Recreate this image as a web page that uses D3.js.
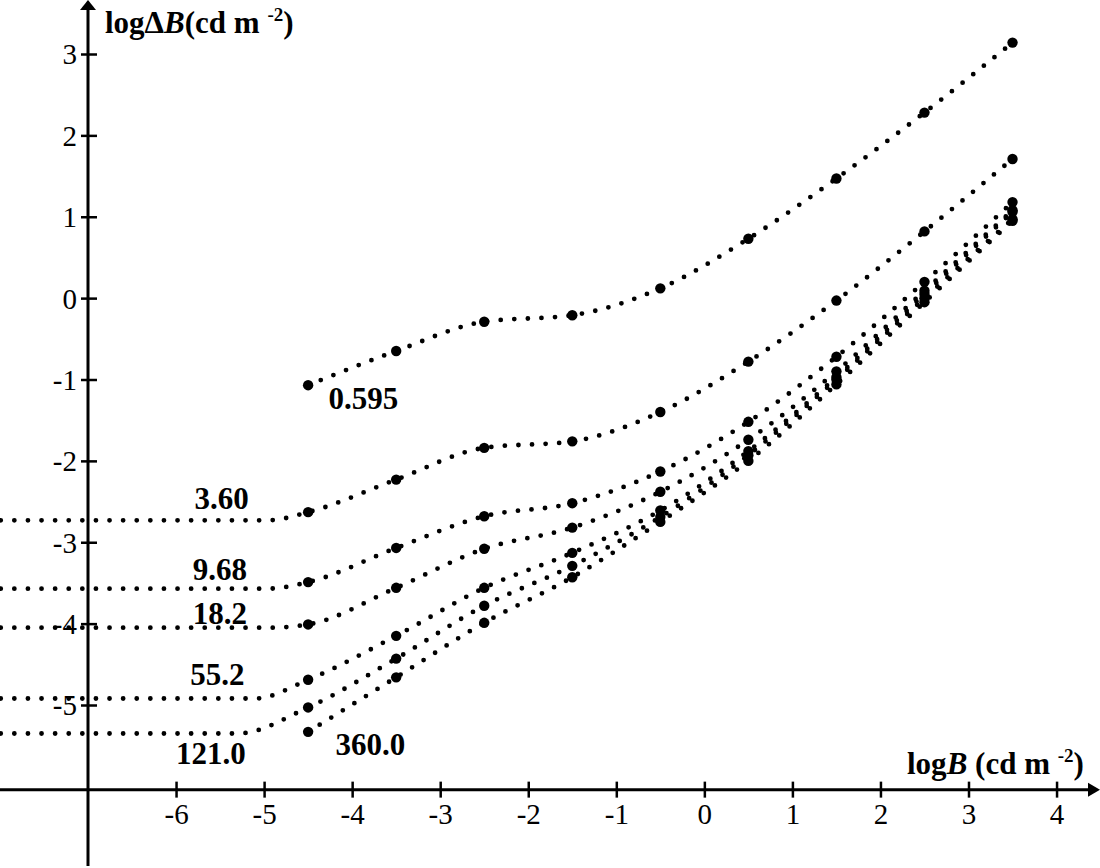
<!DOCTYPE html>
<html><head><meta charset="utf-8">
<script src="https://cdn.jsdelivr.net/npm/d3@7/dist/d3.min.js"></script>
<style>
html,body{margin:0;padding:0;background:#fff;}
svg{display:block;}
text{font-family:"Liberation Serif","Times New Roman",serif;fill:#000;}
</style></head>
<body><svg id="chart" width="1100" height="868"></svg>
<script>
// ---- data ----
const logB = [-4.5, -3.5, -2.5, -1.5, -0.5, 0.5, 1.5, 2.5, 3.5];
const seriesNames = ["0.595", "3.60", "9.68", "18.2", "55.2", "121.0", "360.0"];
const v0595 = [-1.07, -0.65, -0.29, -0.21, 0.12, 0.73, 1.47, 2.28, 3.14];
const v360a = [-2.63, -2.23, -1.84, -1.76, -1.40, -0.78, -0.03, 0.82, 1.71];
const v968  = [-3.49, -3.07, -2.68, -2.52, -2.13, -1.52, -0.72, 0.20, 1.18];
const v182  = [-4.01, -3.56, -3.08, -2.82, -2.38, -1.74, -0.90, 0.09, 1.08];
const v552  = [-4.69, -4.15, -3.56, -3.13, -2.61, -1.88, -0.97, 0.05, 1.06];
const v1210 = [-5.03, -4.43, -3.78, -3.29, -2.69, -1.93, -1.00, 0.00, 0.97];
const v3600 = [-5.33, -4.66, -3.99, -3.43, -2.75, -2.00, -1.06, -0.05, 0.95];
const seriesValues = [v0595, v360a, v968, v182, v552, v1210, v3600];
// low-luminance plateau of each curve (null = none)
const plateauLevel = [null, -2.73, -3.57, -4.05, -4.92, -5.35, null];
const plateauEnd   = [null, -4.95, -4.95, -4.95, -5.10, -5.30, null];
const plateauStart = -8.3;
// label anchors (data units: left edge, baseline)
const labelX = [-4.27, -5.79, -5.81, -5.81, -5.84, -6.00, -4.19];
const labelY = [-1.36, -2.59, -3.46, -4.00, -4.75, -5.72, -5.62];
const xTicks = [-6, -5, -4, -3, -2, -1, 0, 1, 2, 3, 4];
const yTicks = [3, 2, 1, 0, -1, -2, -3, -4, -5];
const xAxisAt = -6.04, yAxisAt = -7;

const SERIF = '"Liberation Serif","Times New Roman",serif';

// ---- scales ----
const svg = d3.select("#chart");
const x = d3.scaleLinear().domain([-7, 4]).range([88, 88 + 11 * 88.05]);
const y = d3.scaleLinear().domain([-5, 3]).range([705, 54]);
const ax0 = x(yAxisAt), ay0 = y(xAxisAt);

// ---- curves ----
const line = d3.line().x(d => x(d[0])).y(d => y(d[1])).curve(d3.curveMonotoneX);
seriesValues.forEach((vals, i) => {
  let pts = logB.map((b, j) => [b, vals[j]]);
  if (plateauLevel[i] !== null) {
    pts = [[plateauStart, plateauLevel[i]], [plateauEnd[i], plateauLevel[i]]].concat(pts);
  }
  svg.append("path").attr("d", line(pts))
    .attr("fill", "none").attr("stroke", "#000")
    .attr("stroke-width", 4.8).attr("stroke-linecap", "round")
    .attr("stroke-dasharray", "0 13.6");
  svg.selectAll(null).data(logB.map((b, j) => [b, vals[j]])).enter()
    .append("circle").attr("cx", d => x(d[0])).attr("cy", d => y(d[1]))
    .attr("r", 5.2).attr("fill", "#000");
  svg.append("text").attr("x", x(labelX[i])).attr("y", y(labelY[i]))
    .style("font-family", SERIF)
    .attr("font-size", 31).attr("font-weight", "bold").text(seriesNames[i]);
});

// ---- axes ----
const xAxis = d3.axisBottom(x).tickValues(xTicks).tickSize(8).tickPadding(0)
  .tickFormat(d => String(d));
const gx = svg.append("g").attr("transform", `translate(0,${ay0})`).call(xAxis);
gx.select(".domain").remove();
gx.selectAll(".tick line").attr("y1", -8).attr("y2", 8).attr("stroke", "#000").attr("stroke-width", 2.5);
gx.selectAll(".tick text").attr("y", 34).attr("dy", 0)
  .style("font-family", SERIF).style("font-size", "29px").style("font-weight", "normal")
  .attr("fill", "#000");

const yAxis = d3.axisLeft(y).tickValues(yTicks).tickSize(8).tickPadding(0)
  .tickFormat(d => String(d));
const gy = svg.append("g").attr("transform", `translate(${ax0},0)`).call(yAxis);
gy.select(".domain").remove();
gy.selectAll(".tick line").attr("x1", -7).attr("x2", 9).attr("stroke", "#000").attr("stroke-width", 2.5);
gy.selectAll(".tick text").attr("x", -11).attr("dy", "0.34em")
  .style("font-family", SERIF).style("font-size", "29px").style("font-weight", "normal")
  .attr("fill", "#000");

// axis lines with arrows
svg.append("line").attr("x1", 0).attr("x2", 1092).attr("y1", ay0).attr("y2", ay0)
  .attr("stroke", "#000").attr("stroke-width", 3);
svg.append("path").attr("d", `M1100,${ay0} L1088,${ay0 - 7} L1088,${ay0 + 7} Z`).attr("fill", "#000");
svg.append("line").attr("x1", ax0).attr("x2", ax0).attr("y1", 8).attr("y2", 866)
  .attr("stroke", "#000").attr("stroke-width", 3);
svg.append("path").attr("d", `M${ax0},0 L${ax0 - 8},10 L${ax0 + 8},10 Z`).attr("fill", "#000");

// axis titles
const yt = svg.append("text").attr("x", ax0 + 17).attr("y", 33)
  .style("font-family", SERIF).attr("font-size", 31).attr("font-weight", "bold");
yt.append("tspan").text("log\u0394");
yt.append("tspan").attr("font-style", "italic").text("B");
yt.append("tspan").text("(cd m ");
yt.append("tspan").attr("font-size", 19).attr("dy", -12).text("-2");
yt.append("tspan").attr("dy", 12).text(")");

const xt = svg.append("text").attr("x", 907).attr("y", 774)
  .style("font-family", SERIF).attr("font-size", 31).attr("font-weight", "bold");
xt.append("tspan").text("log");
xt.append("tspan").attr("font-style", "italic").text("B");
xt.append("tspan").text(" (cd m ");
xt.append("tspan").attr("font-size", 19).attr("dy", -12).text("-2");
xt.append("tspan").attr("dy", 12).text(")");
</script>
</body></html>
